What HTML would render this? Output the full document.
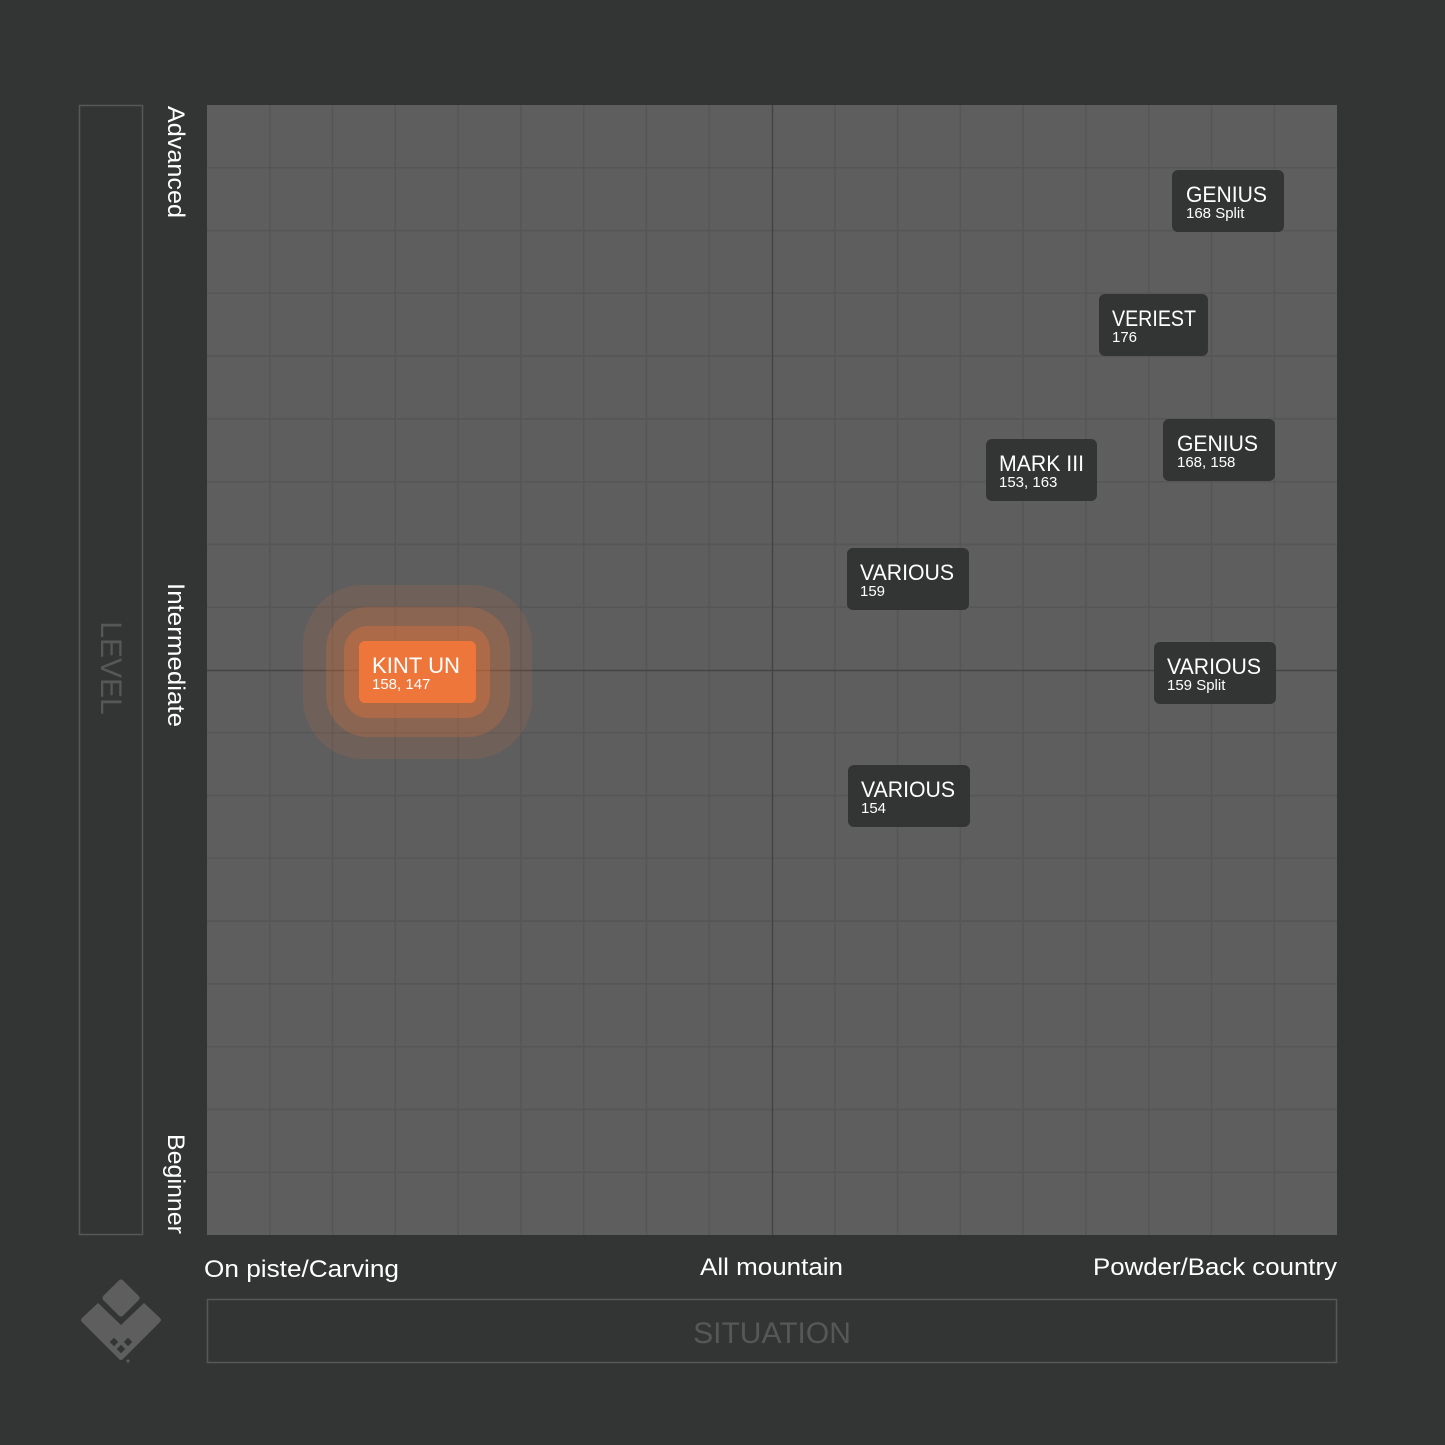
<!DOCTYPE html>
<html><head><meta charset="utf-8"><style>
html,body{margin:0;padding:0;background:#333535;}
svg{display:block;font-family:"Liberation Sans",sans-serif;}
</style></head><body>
<svg width="1445" height="1445" viewBox="0 0 1445 1445" xmlns="http://www.w3.org/2000/svg">
<rect width="1445" height="1445" fill="#333535"/>
<rect x="207" y="105" width="1130" height="1130" fill="#5e5e5e"/>
<g stroke="#565656" stroke-width="1.5">
<line x1="269.8" y1="105" x2="269.8" y2="1235"/><line x1="332.6" y1="105" x2="332.6" y2="1235"/><line x1="395.3" y1="105" x2="395.3" y2="1235"/><line x1="458.1" y1="105" x2="458.1" y2="1235"/><line x1="520.9" y1="105" x2="520.9" y2="1235"/><line x1="583.7" y1="105" x2="583.7" y2="1235"/><line x1="646.4" y1="105" x2="646.4" y2="1235"/><line x1="709.2" y1="105" x2="709.2" y2="1235"/><line x1="834.8" y1="105" x2="834.8" y2="1235"/><line x1="897.6" y1="105" x2="897.6" y2="1235"/><line x1="960.3" y1="105" x2="960.3" y2="1235"/><line x1="1023.1" y1="105" x2="1023.1" y2="1235"/><line x1="1085.9" y1="105" x2="1085.9" y2="1235"/><line x1="1148.7" y1="105" x2="1148.7" y2="1235"/><line x1="1211.4" y1="105" x2="1211.4" y2="1235"/><line x1="1274.2" y1="105" x2="1274.2" y2="1235"/>
<line y1="167.8" x1="207" y2="167.8" x2="1337"/><line y1="230.6" x1="207" y2="230.6" x2="1337"/><line y1="293.3" x1="207" y2="293.3" x2="1337"/><line y1="356.1" x1="207" y2="356.1" x2="1337"/><line y1="418.9" x1="207" y2="418.9" x2="1337"/><line y1="481.7" x1="207" y2="481.7" x2="1337"/><line y1="544.4" x1="207" y2="544.4" x2="1337"/><line y1="607.2" x1="207" y2="607.2" x2="1337"/><line y1="732.8" x1="207" y2="732.8" x2="1337"/><line y1="795.6" x1="207" y2="795.6" x2="1337"/><line y1="858.3" x1="207" y2="858.3" x2="1337"/><line y1="921.1" x1="207" y2="921.1" x2="1337"/><line y1="983.9" x1="207" y2="983.9" x2="1337"/><line y1="1046.7" x1="207" y2="1046.7" x2="1337"/><line y1="1109.4" x1="207" y2="1109.4" x2="1337"/><line y1="1172.2" x1="207" y2="1172.2" x2="1337"/>
</g>
<g stroke="#444444" stroke-width="1.5">
<line x1="772.5" y1="105" x2="772.5" y2="1235"/><line x1="207" y1="670.5" x2="1337" y2="670.5"/>
</g>
<rect x="303" y="585" width="229" height="174" rx="60" fill="#ee7538" fill-opacity="0.12"/>
<rect x="326" y="607" width="184" height="130" rx="42" fill="#ee7538" fill-opacity="0.22"/>
<rect x="344" y="626" width="146" height="92" rx="24" fill="#ee7538" fill-opacity="0.35"/>
<rect x="359" y="641" width="117" height="62" rx="6" fill="#ef763a"/>
<text x="372" y="673" fill="#fff" font-size="22" textLength="88" lengthAdjust="spacingAndGlyphs">KINT UN</text>
<text x="372" y="689" fill="#fff" font-size="15">158, 147</text>
<g fill="#333535">
<rect x="1172" y="170" width="112" height="62" rx="6"/>
<rect x="1099" y="294" width="109" height="62" rx="6"/>
<rect x="1163" y="419" width="112" height="62" rx="6"/>
<rect x="986" y="439" width="111" height="62" rx="6"/>
<rect x="847" y="548" width="122" height="62" rx="6"/>
<rect x="1154" y="642" width="122" height="62" rx="6"/>
<rect x="848" y="765" width="122" height="62" rx="6"/>
</g>
<g fill="#fff" font-size="22" lengthAdjust="spacingAndGlyphs">
<text x="1186" y="202" textLength="81" lengthAdjust="spacingAndGlyphs">GENIUS</text>
<text x="1112" y="326" textLength="84" lengthAdjust="spacingAndGlyphs">VERIEST</text>
<text x="1177" y="451" textLength="81" lengthAdjust="spacingAndGlyphs">GENIUS</text>
<text x="999" y="471" textLength="85" lengthAdjust="spacingAndGlyphs">MARK III</text>
<text x="860" y="580" textLength="94" lengthAdjust="spacingAndGlyphs">VARIOUS</text>
<text x="1167" y="674" textLength="94" lengthAdjust="spacingAndGlyphs">VARIOUS</text>
<text x="861" y="797" textLength="94" lengthAdjust="spacingAndGlyphs">VARIOUS</text>
</g>
<g fill="#fff" font-size="15">
<text x="1186" y="218">168 Split</text>
<text x="1112" y="342">176</text>
<text x="1177" y="467">168, 158</text>
<text x="999" y="487">153, 163</text>
<text x="860" y="596">159</text>
<text x="1167" y="690">159 Split</text>
<text x="861" y="813">154</text>
</g>
<rect x="79.5" y="105.5" width="63" height="1129" fill="none" stroke="#575757" stroke-width="1.5"/>
<rect x="207.5" y="1299.5" width="1129" height="63" fill="none" stroke="#575757" stroke-width="1.5"/>
<text transform="translate(101,668) rotate(90)" text-anchor="middle" fill="#575757" font-size="30">LEVEL</text>
<text x="772" y="1343" text-anchor="middle" fill="#575757" font-size="30">SITUATION</text>
<g fill="#fff" font-size="24">
<text transform="translate(168,106) rotate(90)" textLength="112" lengthAdjust="spacingAndGlyphs">Advanced</text>
<text transform="translate(168,583) rotate(90)" textLength="144" lengthAdjust="spacingAndGlyphs">Intermediate</text>
<text transform="translate(168,1134) rotate(90)" textLength="100" lengthAdjust="spacingAndGlyphs">Beginner</text>
<text x="204" y="1277" textLength="195" lengthAdjust="spacingAndGlyphs">On piste/Carving</text>
<text x="700" y="1275" textLength="143" lengthAdjust="spacingAndGlyphs">All mountain</text>
<text x="1093" y="1275" textLength="244" lengthAdjust="spacingAndGlyphs">Powder/Back country</text>
</g>
<g fill="#5e5e5e">
<rect x="107" y="1284" width="28" height="28" rx="3" transform="rotate(45 121 1298)"/>
<path d="M82 1318 L98 1303 L121 1325 L144 1303 L160 1318 Q162 1320 160 1322 L123 1359 Q121 1361 119 1359 L82 1322 Q80 1320 82 1318 Z"/>
</g>
<g fill="#333535">
<rect x="111" y="1339" width="6" height="6" transform="rotate(45 114 1342)"/>
<rect x="125" y="1339" width="6" height="6" transform="rotate(45 128 1342)"/>
<rect x="118" y="1346" width="6" height="6" transform="rotate(45 121 1349)"/>
</g>
<circle cx="128" cy="1361" r="1.5" fill="#5e5e5e"/>
</svg>
</body></html>
